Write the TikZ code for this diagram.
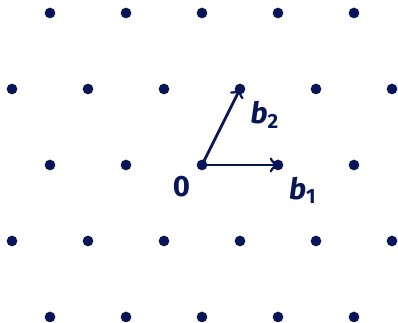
\documentclass[tikz,border=0pt]{standalone}
\usepackage{fontspec}
\setsansfont{Fira Sans}
\definecolor{latblue}{RGB}{8,22,88}

\begin{document}
\begin{tikzpicture}[every node/.style={font=\fontsize{11}{13}\sffamily\bfseries, text=latblue},
  punto/.style={circle, fill=latblue, inner sep=0pt, minimum size=4pt},
  vec/.style={draw=latblue, line width=1.05pt, -to}]
  \useasboundingbox (-2.658,-2.079) rectangle (2.579,2.171);

  % Red (filas pares e impares)
  \foreach \j in {-2,0,2}
    \foreach \x [count=\k] in {-2,...,2}
      \node[punto] (p\k-\j) at (\x,\j) {};
  \foreach \j in {-1,1}
    \foreach \x [count=\k] in {-2.5,-1.5,...,2.5}
      \node[punto] (p\k-\j) at (\x,\j) {};

  % Base
  \coordinate (O) at (0,0);
  \coordinate (B1) at (1,0);
  \coordinate (B2) at (0.5,1);
  \draw[vec] (O) -- (B1);
  \draw[vec] (O) -- (B2);

  % Etiquetas
  \node (l0) at (-0.27,-0.29) {0};
  \node (lb1) at (1.33,-0.33) {{\itshape b}\textsubscript{1}};
  \node (lb2) at (0.83,0.66) {{\itshape b}\textsubscript{2}};
\end{tikzpicture}
\end{document}
